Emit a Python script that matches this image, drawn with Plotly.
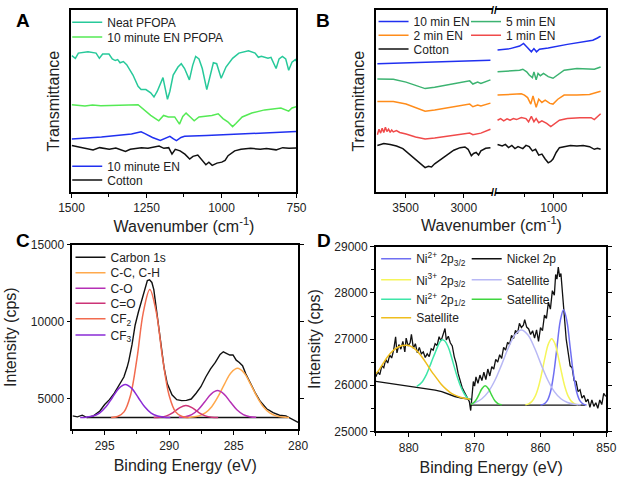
import plotly.graph_objects as go

W, H = 626, 482
FONT = "Arial, Liberation Sans, sans-serif"

# ---------------- Panel A: FTIR 1500-750 cm-1 (arbitrary transmittance units) ----------------
A_neat_wn = [1499, 1487, 1477, 1445, 1418, 1407, 1396, 1375, 1364, 1354, 1346, 1338, 1327, 1316, 1295,
             1278, 1268, 1252, 1236, 1225, 1214, 1204, 1195, 1188, 1180, 1172, 1161, 1145, 1134, 1123,
             1107, 1096, 1086, 1075, 1064, 1049, 1038, 1027, 1016, 1001, 985, 963, 942, 910, 888,
             877, 867, 845, 835, 818, 808, 797, 786, 776, 765, 754, 751]
A_neat_T = [141, 138.3, 143.7, 145, 143.7, 138.3, 142.7, 142.7, 137.7, 136, 137, 133.7, 135, 131.7, 121,
            109.3, 106, 106, 102.7, 98.3, 104.3, 112.7, 118.3, 107.7, 96, 104.3, 121, 129.3, 132.7, 127.7,
            116, 131, 140.3, 137.7, 127.7, 106, 121, 133.7, 132.7, 117.7, 129.3, 138.3, 143.7, 146, 143.7,
            139.3, 140.3, 138.3, 139.3, 127.7, 137.7, 140.3, 137.7, 126, 134.3, 137, 135.5]

A_enp_wn = [1499, 1455, 1430, 1402, 1278, 1257, 1236, 1220, 1209, 1193, 1177, 1156, 1140, 1129, 1118,
            1104, 1091, 1075, 1054, 1032, 1011, 995, 979, 963, 952, 931, 899, 856, 802, 776, 765, 751]
A_enp_T = [90.3, 89.0, 90.0, 89.3, 90.3, 84.3, 79.3, 76, 73.7, 79.3, 77.7, 77.7, 70.3, 78.3, 81.7,
           77.7, 73.7, 77.7, 78.3, 79.3, 81, 76, 72.7, 67.7, 71, 77.7, 81.7, 85, 87, 83.7, 87, 88.3]

A_en_wn = [1499, 1400, 1300, 1268, 1255, 1230, 1204, 1188, 1172, 1160, 1150, 1135, 1123, 1050, 950, 850, 751]
A_en_T = [55, 57, 60, 62.3, 60.5, 56.5, 53.5, 56, 57.7, 55, 53.3, 56.5, 57.7, 58.5, 59.8, 61.3, 62.7]

A_cot_wn = [1499, 1481, 1454, 1428, 1406, 1374, 1352, 1320, 1304, 1288, 1267, 1245, 1224, 1208, 1192,
            1176, 1165, 1154, 1138, 1122, 1106, 1095, 1079, 1063, 1052, 1042, 1031, 1015, 999, 988,
            978, 956, 935, 903, 871, 850, 818, 796, 775, 751]
A_cot_T = [48.3, 47, 45, 43.7, 46, 44.3, 45.7, 42, 44.3, 45, 46, 45.3, 47, 47.7, 45.3,
           46, 39.3, 44.3, 42.7, 39.3, 34.3, 37, 38.3, 32.7, 28.3, 31, 27.7, 30, 31, 32.7,
           37.7, 42.7, 44.3, 45.3, 44.3, 45, 43.7, 46, 45.3, 45.7]

# ---------------- Panel B: FTIR with broken axis (arbitrary units) ----------------
B_wn_L = [3742, 3605, 3496, 3414, 3332, 3250, 3140, 3031, 2949, 2922, 2881, 2853, 2771]
B_blue_wnL = [3742, 3600, 3450, 3300, 3150, 3000, 2850, 2771]
B_blue_TL = [132.7, 133.2, 133.6, 134.2, 134.6, 135.2, 135.8, 136.3]
B_blue_wnR = [1480, 1372, 1291, 1258, 1223, 1191, 1169, 1147, 1122, 1047, 884, 748, 666, 626, 599]
B_blue_TR = [147, 148.3, 151, 153.7, 149.3, 145, 148.3, 145, 147.7, 149, 152.7, 155, 157, 159.3, 161.3]

B_green_TL = [117, 116.7, 113.7, 110, 107, 108.3, 111, 113.7, 115, 111.7, 113.7, 112.3, 116]
B_green_wnR = [1480, 1372, 1291, 1264, 1231, 1209, 1182, 1169, 1150, 1134, 1114, 1087, 1047, 1006, 965,
               911, 802, 694, 653, 599]
B_green_TR = [124.3, 125, 126, 127, 124.3, 121, 118.3, 124.3, 116, 122.7, 120.3, 122.7, 119.3, 117.7, 121,
              126, 127.7, 127.7, 127, 129.3]

B_orange_TL = [93.7, 93.7, 91, 87, 83.7, 85, 87, 89.3, 91, 88.3, 90, 89, 92]
B_orange_wnR = [1480, 1372, 1277, 1250, 1223, 1196, 1177, 1150, 1128, 1101, 1073, 1033, 1006, 965, 911,
                802, 694, 599]
B_orange_TR = [100.3, 101, 101.7, 100.3, 97.7, 91, 99.3, 87.7, 96, 92.7, 95, 91.7, 91, 96, 100.3,
               100.3, 101, 104.3]

B_red_wnL = [3742, 3728, 3714, 3701, 3687, 3673, 3660, 3646, 3632, 3619, 3605, 3578, 3550, 3523, 3496,
             3414, 3332, 3250, 3140, 3031, 2949, 2922, 2853, 2771]
B_red_TL = [59.3, 65, 61, 66, 61.7, 67, 62.7, 65, 61.7, 64.3, 62.3, 63.7, 61.7, 61, 60,
            57, 55, 56, 57.7, 59.7, 61, 59.3, 61, 65]
B_red_wnR = [1480, 1454, 1427, 1399, 1372, 1345, 1318, 1277, 1237, 1215, 1191, 1169, 1150, 1128, 1101,
             1060, 1025, 992, 951, 884, 776, 680, 653, 599]
B_red_TR = [74.3, 76, 73.7, 75.7, 74.3, 76, 75, 77, 76, 72.7, 78.3, 72.7, 76, 71.7, 73.7,
            71, 67.7, 71, 74.3, 76, 77, 77, 75, 81]

B_cot_wnL = [3742, 3687, 3632, 3578, 3523, 3468, 3414, 3359, 3332, 3304, 3277, 3250, 3195, 3140, 3086,
             3031, 2990, 2963, 2935, 2916, 2894, 2873, 2853, 2812, 2771]
B_cot_TL = [48.3, 50.3, 49.3, 47.7, 45, 39.3, 33.7, 27.7, 25.3, 26.7, 26, 29.3, 34.3, 39.3, 43.3,
            46, 46.7, 44.3, 37.7, 40, 41, 38.3, 42.7, 45.3, 46]
B_cot_wnR = [1480, 1440, 1413, 1386, 1358, 1331, 1305, 1264, 1237, 1209, 1182, 1155, 1128, 1101, 1073,
             1047, 1025, 1006, 979, 951, 911, 857, 802, 748, 694, 653, 626, 599]
B_cot_TR = [49.3, 47.7, 49.3, 46, 48.3, 45, 47, 45, 48.3, 47, 42.7, 44.3, 38.3, 39.3, 34.3,
            30.3, 31.7, 34.3, 41, 46, 47, 48.3, 47.7, 48.3, 47, 44.3, 45.3, 44.3]

# ---------------- Panel C: C 1s XPS ----------------
C_be = [297.49, 297.11, 296.74, 296.37, 295.87, 295.37, 295.0, 294.63, 294.25, 293.88, 293.51, 293.26,
        293.13, 292.88, 292.64, 292.39, 292.14, 291.89, 291.69, 291.52, 291.34, 291.19, 291.02, 290.85,
        290.65, 290.40, 290.15, 289.78, 289.41, 289.03, 288.66, 288.29, 287.91, 287.54, 287.16, 286.79,
        286.42, 286.05, 285.80, 285.55, 285.30, 285.05, 284.80, 284.56, 284.31, 284.06, 283.69, 283.31,
        282.94, 282.44, 281.94, 281.44, 280.95, 280.57, 280.20, 280.0]
C_int = [3877, 3813, 3921, 3769, 3877, 4193, 4614, 4932, 5351, 5878, 6405, 7037,
         7458, 8511, 9775, 10618, 11355, 12093, 12683, 12725, 12556, 12093, 11039, 9775,
         8511, 7037, 5982, 5246, 4932, 4867, 4888, 4972, 5351, 5773, 6405, 6931,
         7353, 7877, 8048, 7964, 7837, 7837, 7500, 7353, 7144, 6614, 5982, 5351,
         4825, 4340, 4087, 3921, 3877, 3706, 3561, 3455]
C_bg_be = [296.4, 280.8]
C_bg_int = [3770, 3770]
C_cc_be = [288.7, 288.2, 287.7, 287.2, 286.7, 286.2, 285.7, 285.2, 284.7, 284.2, 283.7, 283.2, 282.7,
           282.2, 281.7, 281.2, 280.7]
C_cc_int = [3778, 3801, 3876, 4071, 4475, 5138, 5965, 6686, 6974, 6686, 5965, 5138, 4475, 4071, 3876, 3801, 3778]
C_co_be = [289.25, 288.75, 288.25, 287.75, 287.25, 286.75, 286.25, 285.75, 285.25, 284.75, 284.25, 283.75, 283.25]
C_co_int = [3782, 3825, 3961, 4273, 4776, 5294, 5520, 5294, 4776, 4273, 3961, 3825, 3782]
C_cdo_be = [291.2, 290.7, 290.2, 289.7, 289.2, 288.7, 288.2, 287.7, 287.2, 286.7, 286.2]
C_cdo_int = [3773, 3792, 3876, 4092, 4397, 4553, 4397, 4092, 3876, 3792, 3773]
C_cf2_be = [294.5, 294.0, 293.5, 293.0, 292.5, 292.0, 291.5, 291.0, 290.5, 290.0, 289.5, 289.0, 288.5]
C_cf2_int = [3772, 3833, 4137, 5204, 7585, 10625, 12100, 10625, 7585, 5204, 4137, 3833, 3772]
C_cf3_be = [296.9, 296.4, 295.9, 295.4, 294.9, 294.4, 293.9, 293.4, 292.9, 292.4, 291.9, 291.4, 290.9, 290.4, 289.9]
C_cf3_int = [3775, 3794, 3865, 4061, 4468, 5074, 5667, 5920, 5667, 5074, 4468, 4061, 3865, 3794, 3775]

# ---------------- Panel D: Ni 2p XPS ----------------
D_be = [885.0, 884.7, 884.4, 884.1, 883.8, 883.5, 883.2, 882.9, 882.6, 882.3, 882.0, 881.8, 881.5, 881.2,
        880.9, 880.6, 880.4, 880.1, 879.8, 879.6, 879.3, 879.0, 878.7, 878.4, 878.1, 877.8, 877.5, 877.2,
        876.9, 876.6, 876.3, 876.0, 875.7, 875.4, 875.1, 874.8, 874.5, 874.3, 874.0, 873.7, 873.4, 873.1,
        872.8, 872.5, 872.2, 871.9, 871.6, 871.3, 871.0, 870.8, 870.6, 870.4, 870.2, 870.0, 869.8, 869.5,
        869.2, 868.9, 868.6, 868.3, 868.0, 867.7, 867.4, 867.1, 866.8, 866.5, 866.2, 865.9, 865.6, 865.3,
        865.0, 864.7, 864.4, 864.1, 863.8, 863.5, 863.2, 862.9, 862.6, 862.4, 862.1, 861.8, 861.5, 861.2,
        860.9, 860.6, 860.3, 860.0, 859.7, 859.4, 859.1, 858.8, 858.5, 858.2, 857.9, 857.7, 857.5, 857.3,
        857.1, 856.9, 856.7, 856.5, 856.3, 856.1, 855.8, 855.5, 855.2, 854.9, 854.6, 854.3, 854.0, 853.7,
        853.4, 853.1, 852.8, 852.5, 852.2, 851.9, 851.6, 851.3, 851.0, 850.7, 850.4, 850.1]
D_int = [26180, 26290, 26230, 26420, 26380, 26560, 26480, 26650, 26590, 26760, 27050, 26700, 26880, 26780,
         26950, 26720, 27020, 26850, 26920, 27100, 26800, 26900, 26700, 26820, 26680, 26720, 26600, 26680,
         26620, 26790, 26760, 26900, 26860, 27050, 26960, 27120, 27230, 26980, 27060, 26920, 26850, 26620,
         26470, 26250, 26100, 25950, 25860, 25780, 25700, 25640, 25450, 25800, 26080, 25980, 26180, 26040,
         26220, 26100, 26280, 26120, 26350, 26200, 26400, 26350, 26560, 26500, 26660, 26580, 26820, 26760,
         26930, 26880, 27080, 27010, 27190, 27120, 27340, 27250, 27300, 27420, 27260, 27220, 27100, 27180,
         27020, 27200, 26950, 27250, 27180, 27520, 27450, 27800, 27650, 28050, 27950, 28400, 28300, 28560,
         28350, 28420, 28000, 27800, 27350, 27000, 26750, 26420, 26380, 26100, 26080, 25860, 25900, 25720,
         25780, 25640, 25700, 25520, 25680, 25540, 25620, 25500, 25680, 25580, 25820, 25760]
D_bg_be = [885.0, 884.0, 883.0, 882.0, 881.0, 880.0, 879.0, 878.0, 877.0, 876.0, 875.0, 874.0, 873.0,
           872.0, 871.0, 870.6, None, 870.6, 853.2]
D_bg_int = [26082, 26062, 26042, 26022, 26002, 25985, 25965, 25942, 25918, 25893, 25860, 25805, 25755,
            25722, 25702, 25696, None, 25568, 25568]
D_n2a_be = [860.0, 859.5, 859.0, 858.5, 858.0, 857.5, 857.0, 856.5, 856.0, 855.5, 855.0, 854.5, 854.0, 853.5, 853.0]
D_n2a_int = [25572, 25591, 25659, 25848, 26240, 26823, 27395, 27638, 27395, 26823, 26240, 25848, 25659, 25591, 25572]
D_n3_be = [862.3, 861.8, 861.3, 860.8, 860.3, 859.8, 859.3, 858.8, 858.3, 857.8, 857.3, 856.8, 856.3,
           855.8, 855.3, 854.8, 854.3]
D_n3_int = [25577, 25596, 25649, 25763, 25968, 26269, 26613, 26896, 27007, 26896, 26613, 26269, 25968,
            25763, 25649, 25596, 25577]
D_n2b_be = [878.78, 878.05, 877.31, 876.58, 875.84, 875.35, 874.96, 874.52, 874.03, 873.54, 873.05,
            872.56, 872.07, 871.58, 871.09, 870.60]
D_n2b_int = [25975, 26059, 26235, 26495, 26761, 26916, 26986, 26958, 26832, 26621, 26375, 26144, 25954,
             25814, 25723, 25688]
D_satg_be = [885.14, 884.65, 883.92, 883.19, 882.45, 881.72, 880.98, 880.25, 879.52, 878.78, 878.05,
             877.31, 876.58, 875.84, 875.11, 874.38, 873.64, 872.91, 872.17, 871.44, 870.70]
D_satg_int = [26235, 26305, 26467, 26621, 26740, 26817, 26860, 26866, 26831, 26747, 26621, 26467, 26305,
              26165, 26024, 25919, 25835, 25779, 25737, 25709, 25695]
D_satl_be = [870.5, 869.9, 868.9, 867.9, 866.9, 865.9, 864.9, 863.9, 862.9, 861.9, 860.9, 859.9, 858.9,
             857.9, 856.9, 855.9, 854.9, 853.9]
D_satl_int = [25599, 25624, 25706, 25861, 26112, 26446, 26805, 27089, 27196, 27089, 26805, 26446, 26112,
              25861, 25706, 25624, 25588, 25574]
D_satn_be = [870.6, 870.4, 869.9, 869.4, 868.9, 868.4, 867.9, 867.4, 866.9, 866.4, 865.9]
D_satn_int = [25582, 25595, 25657, 25779, 25922, 25989, 25922, 25779, 25657, 25595, 25574]

# ---------------- colours ----------------
COL = {
    "neat": "#27C99A", "enp": "#55EA55", "blue": "#2030F0", "black": "#111111",
    "b_green": "#3CB371", "b_orange": "#FF8C1A", "b_red": "#F04A4A",
    "cc": "#FFA94D", "co": "#B530B5", "cdo": "#CC3377", "cf2": "#F26B4F", "cf3": "#8A2BD6",
    "n2a": "#6F6FF2", "n3": "#F5F55A", "n2b": "#3DE6A8", "satg": "#EFBE1E", "satl": "#B8B8F5", "satn": "#3FD63F",
}


def px2x(px):
    return px / W


def py2y(py):
    return 1 - py / H


fig = go.Figure()
legend_layout = {}
legend_count = [0]


def new_legend(sample_left, center_py):
    legend_count[0] += 1
    n = legend_count[0]
    key = "legend" if n == 1 else f"legend{n}"
    legend_layout[key] = dict(
        x=px2x(sample_left - 7), y=py2y(center_py), xanchor="left", yanchor="middle",
        bgcolor="rgba(0,0,0,0)", borderwidth=0, font=dict(family=FONT, size=12, color="#222"),
        itemwidth=30, tracegroupgap=0,
    )
    return key


def add(x, y, name, color, xa, ya, leg=None, width=1.5, shape="linear", group=None):
    fig.add_trace(go.Scatter(
        x=x, y=y, mode="lines", name=name, line=dict(color=color, width=width, shape=shape),
        xaxis=xa, yaxis=ya, showlegend=leg is not None, legend=leg if leg else "legend",
        legendgroup=group, hoverinfo="skip",
    ))


# Panel A
add(A_neat_wn, A_neat_T, "Neat PFOPA", COL["neat"], "x", "y", new_legend(63.3, 15.7))
add(A_enp_wn, A_enp_T, "10 minute EN PFOPA", COL["enp"], "x", "y", new_legend(63.3, 31))
add(A_en_wn, A_en_T, "10 minute EN", COL["blue"], "x", "y", new_legend(63.3, 164))
add(A_cot_wn, A_cot_T, "Cotton", COL["black"], "x", "y", new_legend(63.3, 178.3))

# Panel B
add(B_blue_wnL, B_blue_TL, "10 min EN", COL["blue"], "x2", "y2", new_legend(381.3, 15), group="b10")
add(B_blue_wnR, B_blue_TR, "10 min EN", COL["blue"], "x3", "y3", None, group="b10")
add(B_wn_L, B_green_TL, "5 min EN", COL["b_green"], "x2", "y2", new_legend(477.3, 15), group="b5")
add(B_green_wnR, B_green_TR, "5 min EN", COL["b_green"], "x3", "y3", None, group="b5")
add(B_wn_L, B_orange_TL, "2 min EN", COL["b_orange"], "x2", "y2", new_legend(381.3, 29), group="b2")
add(B_orange_wnR, B_orange_TR, "2 min EN", COL["b_orange"], "x3", "y3", None, group="b2")
add(B_red_wnL, B_red_TL, "1 min EN", COL["b_red"], "x2", "y2", new_legend(477.3, 29), group="b1")
add(B_red_wnR, B_red_TR, "1 min EN", COL["b_red"], "x3", "y3", None, group="b1")
add(B_cot_wnL, B_cot_TL, "Cotton", COL["black"], "x2", "y2", new_legend(381.3, 43.3), group="bc")
add(B_cot_wnR, B_cot_TR, "Cotton", COL["black"], "x3", "y3", None, group="bc")

# Panel C
add(C_be, C_int, "Carbon 1s", COL["black"], "x4", "y4", new_legend(66.7, 257.7), width=1.4)
add(C_bg_be, C_bg_int, "Background", COL["black"], "x4", "y4", None, width=1.4)
add(C_cc_be, C_cc_int, "C-C, C-H", COL["cc"], "x4", "y4", new_legend(66.7, 273.7), shape="spline")
add(C_co_be, C_co_int, "C-O", COL["co"], "x4", "y4", new_legend(66.7, 289.7), shape="spline")
add(C_cdo_be, C_cdo_int, "C=O", COL["cdo"], "x4", "y4", new_legend(66.7, 305), shape="spline")
add(C_cf2_be, C_cf2_int, "CF<sub>2</sub>", COL["cf2"], "x4", "y4", new_legend(66.7, 321), shape="spline")
add(C_cf3_be, C_cf3_int, "CF<sub>3</sub>", COL["cf3"], "x4", "y4", new_legend(66.7, 337.7), shape="spline")

# Panel D
add(D_be, D_int, "Nickel 2p", COL["black"], "x5", "y5", new_legend(478, 259.3), width=1.3)
add(D_bg_be, D_bg_int, "Background", COL["black"], "x5", "y5", None, width=1.4)
add(D_n2a_be, D_n2a_int, "Ni<sup>2+</sup> 2p<sub>3/2</sub>", COL["n2a"], "x5", "y5", new_legend(384, 259.3), shape="spline")
add(D_n3_be, D_n3_int, "Ni<sup>3+</sup> 2p<sub>3/2</sub>", COL["n3"], "x5", "y5", new_legend(384, 281), shape="spline")
add(D_n2b_be, D_n2b_int, "Ni<sup>2+</sup> 2p<sub>1/2</sub>", COL["n2b"], "x5", "y5", new_legend(384, 301), shape="spline")
add(D_satg_be, D_satg_int, "Satellite", COL["satg"], "x5", "y5", new_legend(384, 320), shape="spline")
add(D_satl_be, D_satl_int, "Satellite", COL["satl"], "x5", "y5", new_legend(478, 281), shape="spline")
add(D_satn_be, D_satn_int, "Satellite", COL["satn"], "x5", "y5", new_legend(478, 301), shape="spline")

# ---------------- axes ----------------
tickfont = dict(family=FONT, size=12, color="#222")
titlefont = dict(family=FONT, size=16, color="#222")
base_x = dict(showline=True, linecolor="black", linewidth=1.6, mirror=True, ticks="outside", ticklen=4,
              tickwidth=1.3, tickcolor="black", tickfont=tickfont, showgrid=False, zeroline=False)
base_y = dict(showline=True, linecolor="black", linewidth=1.6, showgrid=False, zeroline=False)

yA_dom = [py2y(190.7), py2y(3.3)]
yC_dom = [py2y(435), py2y(245)]
yD_dom = [py2y(437), py2y(247)]

fig.update_layout(
    width=W, height=H, margin=dict(l=0, r=0, t=0, b=0),
    paper_bgcolor="white", plot_bgcolor="white", font=dict(family=FONT, color="#222"),
    xaxis=dict(base_x, domain=[px2x(60.7), px2x(294.3)], anchor="y", range=[1500, 750], tick0=0, dtick=250,
               minor=dict(dtick=125, ticks="outside", ticklen=3, tickcolor="black"),
               title=dict(text="Wavenumber (cm<sup>-1</sup>)", font=titlefont, standoff=6)),
    yaxis=dict(base_y, domain=yA_dom, anchor="x", range=[0, 188], mirror=True, showticklabels=False, ticks="",
               title=dict(text="Transmittance", font=titlefont, standoff=6)),
    xaxis2=dict(base_x, domain=[px2x(377.3), px2x(498.2)], anchor="y2", range=[3750, 2750],
                tickvals=[3500, 3000], minor=dict(tickvals=[3250], ticks="outside", ticklen=3, tickcolor="black")),
    xaxis3=dict(base_x, domain=[px2x(500.6), px2x(616)], anchor="y3", range=[1500, 550],
                tickvals=[1000], minor=dict(tickvals=[1250, 750], ticks="outside", ticklen=3, tickcolor="black")),
    yaxis2=dict(base_y, domain=yA_dom, anchor="x2", range=[0, 188], mirror=False, showticklabels=False, ticks="",
                title=dict(text="Transmittance", font=titlefont, standoff=6)),
    yaxis3=dict(base_y, domain=yA_dom, anchor="x3", side="right", range=[0, 188], mirror=False,
                showticklabels=False, ticks=""),
    xaxis4=dict(base_x, domain=[px2x(61.7), px2x(296)], anchor="y4", range=[297.5, 280], tick0=0, dtick=5,
                minor=dict(dtick=2.5, ticks="outside", ticklen=3, tickcolor="black"),
                title=dict(text="Binding Energy (eV)", font=titlefont, standoff=8)),
    yaxis4=dict(base_y, domain=yC_dom, anchor="x4", range=[3000, 15000], tick0=0, dtick=5000, tickformat="d",
                mirror="ticks", ticks="outside", ticklen=4, tickwidth=1.3, tickcolor="black", tickfont=tickfont,
                title=dict(text="Intensity (cps)", font=titlefont, standoff=10)),
    xaxis5=dict(base_x, domain=[px2x(376.7), px2x(616)], anchor="y5", range=[885, 850], tick0=0, dtick=10,
                minor=dict(dtick=5, ticks="outside", ticklen=3, tickcolor="black"),
                title=dict(text="Binding Energy (eV)", font=titlefont, standoff=8)),
    yaxis5=dict(base_y, domain=yD_dom, anchor="x5", range=[25000, 29000], tick0=0, dtick=1000, tickformat="d",
                mirror="ticks", ticks="outside", ticklen=4, tickwidth=1.3, tickcolor="black", tickfont=tickfont,
                minor=dict(dtick=500, ticks="outside", ticklen=3, tickcolor="black"),
                title=dict(text="Intensity (cps)", font=titlefont, standoff=10)),
    **legend_layout,
)

# panel letters, broken-axis marks and the shared x title of panel B
ann = []
for letter, lx, ly in [("A", 1, 13.5), ("B", 312, 13.5), ("C", 1, 240), ("D", 313, 240)]:
    ann.append(dict(text=f"<b>{letter}</b>", x=px2x(lx), y=py2y(ly), xref="paper", yref="paper",
                    xanchor="left", yanchor="middle", showarrow=False,
                    font=dict(family=FONT, size=19, color="black")))
for by in (3.3, 190.7):
    ann.append(dict(text="<b>//</b>", x=px2x(499.4), y=py2y(by), xref="paper", yref="paper",
                    xanchor="center", yanchor="middle", showarrow=False,
                    font=dict(family=FONT, size=11, color="black")))
ann.append(dict(text="Wavenumber (cm<sup>-1</sup>)", x=px2x(496.7), y=py2y(224), xref="paper", yref="paper",
                xanchor="center", yanchor="middle", showarrow=False, font=titlefont))
fig.update_layout(annotations=ann)

fig.write_html("out.html")
